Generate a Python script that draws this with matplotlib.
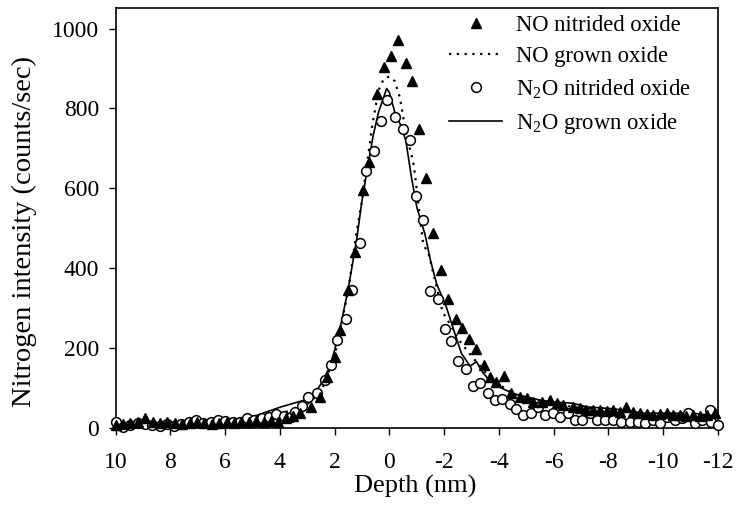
import numpy as np
import matplotlib
matplotlib.use("Agg")
import matplotlib.pyplot as plt

plt.rcParams['font.family'] = ['Liberation Serif', 'DejaVu Serif']
plt.rcParams['axes.unicode_minus'] = False
plt.rcParams['mathtext.fontset'] = 'custom'
plt.rcParams['mathtext.rm'] = 'Liberation Serif'

# NO nitrided oxide (filled triangles)
no_nit_x = [10.0, 9.73, 9.46, 9.19, 8.92, 8.65, 8.38, 8.11, 7.84, 7.57, 7.30, 7.03,
            6.76, 6.49, 6.22, 5.95, 5.68, 5.41, 5.14, 4.87, 4.60, 4.33, 4.06, 3.79,
            3.52, 3.27, 2.85, 2.54, 2.28, 2.0, 1.81, 1.51, 1.26, 0.98, 0.74, 0.47,
            0.21, -0.05, -0.32, -0.59, -0.84, -1.09, -1.33, -1.6, -1.87, -2.15, -2.43,
            -2.67, -2.9, -3.15, -3.45, -3.67, -3.91, -4.18, -4.46, -4.77, -5.01, -5.25,
            -5.56, -5.86, -6.11, -6.35, -6.71, -6.95, -7.2, -7.45, -7.69, -7.95, -8.18,
            -8.42, -8.66, -8.9, -9.15, -9.4, -9.64, -9.9, -10.13, -10.37, -10.61, -10.85,
            -11.1, -11.35, -11.59, -11.9]
no_nit_y = [8, 10, 12, 15, 24, 14, 12, 16, 12, 10, 12, 14,
            12, 10, 12, 14, 12, 14, 16, 18, 16, 18, 16, 24,
            30, 37, 53, 78, 128, 178, 245, 345, 441, 595, 666, 835,
            903, 932, 972, 913, 870, 749, 625, 489, 395, 324, 272,
            250, 222, 197, 158, 128, 116, 130, 87, 78, 74, 66,
            66, 70, 62, 58, 53, 50, 45, 45, 45, 42, 45,
            40, 53, 40, 37, 35, 32, 35, 37, 33, 32, 30,
            32, 30, 32, 37]

# N2O nitrided oxide (open circles)
n2o_nit_x = [10.0, 9.73, 9.46, 9.2, 8.93, 8.66, 8.4, 8.13, 7.86, 7.6, 7.33, 7.06,
             6.8, 6.53, 6.26, 5.99, 5.73, 5.46, 5.2, 4.93, 4.66, 4.4, 4.13, 3.86,
             3.6, 3.46, 3.2, 2.97, 2.66, 2.35, 2.15, 1.91, 1.59, 1.35, 1.08, 0.84,
             0.57, 0.32, 0.09, -0.22, -0.5, -0.75, -0.99, -1.24, -1.5, -1.76, -2.02,
             -2.25, -2.52, -2.79, -3.06, -3.31, -3.6, -3.87, -4.13, -4.4, -4.64, -4.89,
             -5.16, -5.43, -5.68, -5.96, -6.23, -6.53, -6.78, -7.02, -7.32, -7.57, -7.87,
             -8.18, -8.48, -8.79, -9.09, -9.33, -9.64, -9.88, -10.13, -10.43, -10.68,
             -10.92, -11.16, -11.41, -11.71, -11.75, -11.99]
n2o_nit_y = [14, 2, 8, 12, 10, 8, 6, 10, 4, 10, 14, 20,
             12, 14, 20, 18, 14, 16, 24, 20, 24, 28, 34, 30,
             28, 41, 55, 78, 87, 120, 158, 220, 274, 345, 463, 643,
             693, 768, 820, 778, 748, 720, 582, 520, 344, 324, 249,
             217, 168, 147, 105, 113, 87, 69, 72, 60, 47, 33,
             37, 53, 33, 37, 28, 37, 20, 20, 37, 20, 20,
             20, 16, 16, 16, 12, 20, 12, 28, 20, 24,
             37, 12, 20, 45, 16, 8]

# N2O grown oxide (solid line)
n2o_grown_x = [10, 9, 8, 7, 6, 5, 4.5, 4, 3.5, 3.0, 2.7, 2.5, 2.2, 2.0, 1.8, 1.5,
               1.2, 1.0, 0.8, 0.6, 0.4, 0.2, 0.1, 0.0, -0.2, -0.4, -0.6, -0.8, -1.0,
               -1.3, -1.5, -1.72, -2.08, -2.39, -2.63, -2.95, -3.18, -3.4, -3.67, -4.0,
               -4.5, -5.0, -5.5, -6.0, -6.7, -7.2, -8.2, -9.3, -10.5, -11.1, -11.7, -12]
n2o_grown_y = [5, 8, 10, 12, 18, 28, 40, 52, 62, 72, 90, 110, 150, 195, 250, 350,
               470, 570, 650, 730, 790, 830, 850, 840, 790, 760, 720, 630, 553,
               485, 420, 362, 303, 237, 187, 155, 166, 140, 118, 103,
               87, 78, 70, 65, 62, 53, 48, 37, 37, 37, 32, 30]

# NO grown oxide (dotted line)
no_grown_x = [10, 8, 6, 5, 4, 3, 2.5, 2.0, 1.5, 1.2, 1.0, 0.8, 0.62, 0.4, 0.2, 0.0,
              -0.2, -0.38, -0.6, -0.87, -0.93, -1.23, -1.45, -1.94, -2.3, -2.6, -3.0,
              -3.5, -4.0, -4.5, -5.0, -6.0, -7.0, -8.0, -9.0, -10.0, -11.0, -12.0]
no_grown_y = [5, 8, 12, 20, 35, 60, 90, 180, 345, 491, 570, 670, 760, 845, 875, 880,
              868, 828, 740, 666, 637, 462, 432, 291, 250, 215, 180,
              140, 110, 85, 75, 60, 50, 45, 40, 35, 32, 30]

xticks = [10, 8, 6, 4, 2, 0, -2, -4, -6, -8, -10, -12]
yticks = [0, 200, 400, 600, 800, 1000]

fig = plt.figure(figsize=(7.37, 5.21), dpi=100)
ax = fig.add_axes([0.157, 0.1785, 0.817, 0.8065])

ax.plot(n2o_grown_x, n2o_grown_y, '-', color='black', lw=1.2, label='N$_2$O grown oxide', zorder=2)
ax.plot(no_grown_x, no_grown_y, linestyle=(0, (1, 2.5)), color='black', lw=1.6,
        label='NO grown oxide', zorder=2)
ax.plot(n2o_nit_x, n2o_nit_y, 'o', mfc='white', mec='black', mew=1.1, ms=7,
        label='N$_2$O nitrided oxide', zorder=3, clip_on=False)
ax.plot(no_nit_x, no_nit_y, '^', color='black', ms=7, label='NO nitrided oxide',
        zorder=4, clip_on=False)

ax.set_xlim(10, -12)
ax.set_ylim(0, 1052)
ax.set_xticks(xticks)
ax.set_yticks(yticks)
ax.tick_params(direction='out', length=5, width=1, labelsize=17, top=False, right=False)
ax.tick_params(axis='x', pad=12)
ax.tick_params(axis='y', pad=7)
for s in ax.spines.values():
    s.set_linewidth(1.2)

ax.set_xlabel('Depth (nm)', fontsize=19)
ax.set_ylabel('Nitrogen intensity (counts/sec)', fontsize=20.5)
ax.xaxis.set_label_coords(0.497, -0.112)
ax.yaxis.set_label_coords(-0.131, 0.467)

h, l = ax.get_legend_handles_labels()
order = [3, 1, 2, 0]
ax.legend([h[i] for i in order], [l[i] for i in order], loc='upper right',
          bbox_to_anchor=(0.954, 0.984), frameon=False, fontsize=16.3,
          borderaxespad=0, borderpad=0,
          handlelength=2.35, labelspacing=0.45, handletextpad=0.58)

fig.savefig('out.png', dpi=100)
